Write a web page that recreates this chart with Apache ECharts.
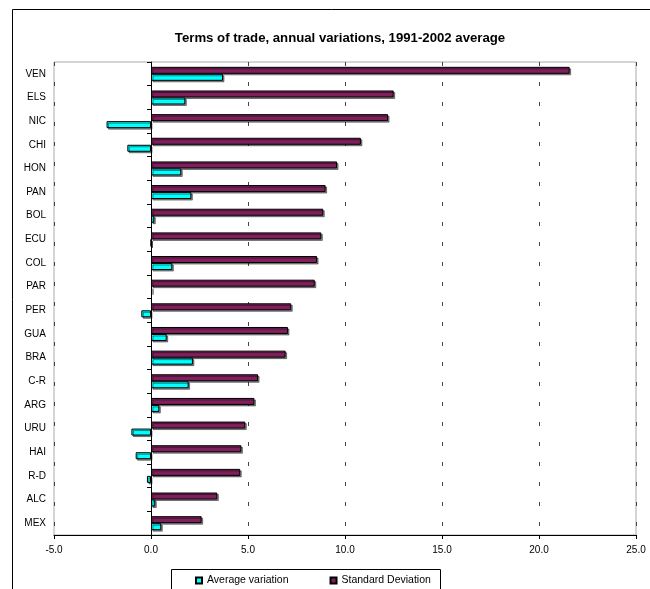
<!DOCTYPE html>
<html><head><meta charset="utf-8">
<script src="https://cdn.jsdelivr.net/npm/echarts@6/dist/echarts.min.js"></script>
<style>html,body{margin:0;padding:0;background:#fff}#c{width:650px;height:589px}</style>
</head><body><div id="c"></div>
<script>
var categories = ['VEN','ELS','NIC','CHI','HON','PAN','BOL','ECU','COL','PAR','PER','GUA','BRA','C-R','ARG','URU','HAI','R-D','ALC','MEX'];
var averageVariation = [3.71, 1.77, -2.29, -1.22, 1.56, 2.08, 0.17, 0.0, 1.10, 0.05, -0.50, 0.81, 2.16, 1.94, 0.43, -1.01, -0.79, -0.21, 0.22, 0.53];
var standardDeviation = [21.58, 12.51, 12.22, 10.82, 9.59, 9.0, 8.88, 8.78, 8.56, 8.44, 7.23, 7.06, 6.94, 5.52, 5.33, 4.86, 4.66, 4.60, 3.42, 2.61];
var xTicks = {min: -5, max: 25, interval: 5};

var FONT = 'Liberation Sans, Arial, sans-serif';
var chart = echarts.init(document.getElementById('c'), null, {renderer: 'canvas'});
var barStyle = function (color) {
  return {color: color, borderColor: '#000', borderWidth: 1,
    shadowColor: 'rgba(0,0,0,0.45)', shadowOffsetX: 1.5, shadowOffsetY: 1.5, shadowBlur: 0};
};
chart.setOption({
  animation: false,
  title: {
    text: 'Terms of trade, annual variations, 1991-2002 average',
    left: 335, textAlign: 'center', top: 27,
    textStyle: {fontFamily: FONT, fontSize: 13.2, fontWeight: 'bold', color: '#000'}
  },
  graphic: [
    {type: 'rect', shape: {x: 12.5, y: 9.5, width: 700, height: 700}, style: {fill: 'none', stroke: '#000', lineWidth: 1}, silent: true},
    {type: 'rect', shape: {x: 171.5, y: 569.5, width: 269, height: 40}, style: {fill: '#fff', stroke: '#000', lineWidth: 1}, silent: true, z: 0}
  ],
  legend: {
    data: ['Average variation', 'Standard Deviation'],
    left: 190, top: 570, itemGap: 41, itemWidth: 6, itemHeight: 6,
    icon: 'rect', z: 10,
    textStyle: {fontFamily: FONT, fontSize: 10.5, color: '#000'}
  },
  grid: {left: 54, right: 14, top: 62, bottom: 54, show: true, borderColor: '#aaa', borderWidth: 1},
  xAxis: {
    type: 'value', min: xTicks.min, max: xTicks.max, interval: xTicks.interval,
    axisLine: {show: true, onZero: false, lineStyle: {color: '#000', width: 1}},
    axisTick: {show: true, length: 4, lineStyle: {color: '#000'}},
    axisLabel: {fontFamily: FONT, fontSize: 10, color: '#000', margin: 10,
      formatter: function (v) { return v.toFixed(1); }},
    splitLine: {show: true, lineStyle: {color: '#444', width: 1, type: [4, 16]}}
  },
  yAxis: [{
    type: 'category', data: categories, inverse: true,
    axisLine: {show: false, onZero: false},
    axisTick: {show: false},
    axisLabel: {fontFamily: FONT, fontSize: 10, color: '#000', margin: 8}
  }, {
    type: 'category', data: categories, inverse: true, position: 'left',
    axisLine: {show: true, onZero: true, lineStyle: {color: '#000', width: 1}},
    axisTick: {show: true, length: 4, lineStyle: {color: '#000'}},
    axisLabel: {show: false}
  }],
  series: [{
    name: 'Standard Deviation', type: 'bar', yAxisIndex: 0, data: standardDeviation,
    barWidth: 7, barGap: '0%', itemStyle: barStyle('#7F1F5B')
  }, {
    name: 'Average variation', type: 'bar', yAxisIndex: 0, data: averageVariation,
    barWidth: 7, barGap: '0%', itemStyle: barStyle('#00FFFF')
  }]
});
</script></body></html>
